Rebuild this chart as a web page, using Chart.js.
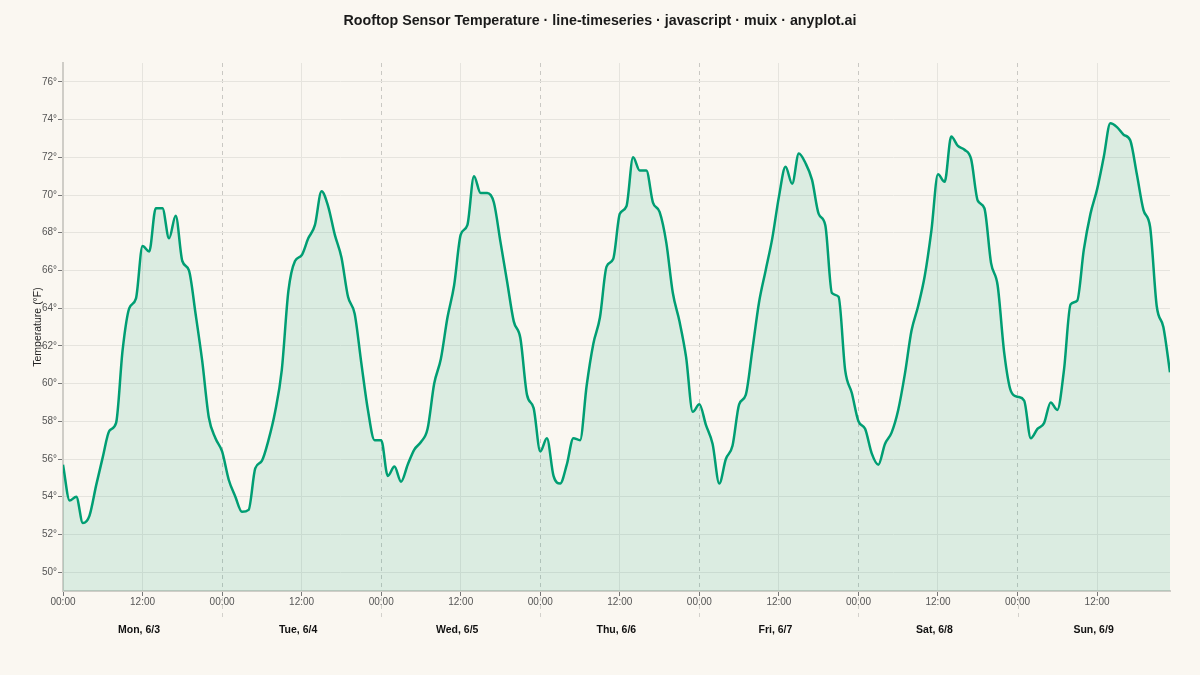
<!DOCTYPE html>
<html>
<head>
<meta charset="utf-8">
<title>Rooftop Sensor Temperature</title>
<script src="https://cdn.jsdelivr.net/npm/chart.js@4/dist/chart.umd.min.js"></script>
<style>
  html, body { margin: 0; padding: 0; background: #faf7f1; }
  #wrap { width: 1200px; height: 675px; position: relative; }
</style>
</head>
<body>
<div id="wrap"><canvas id="tempChart"></canvas></div>
<script>
// hourly readings, Mon 6/3 00:00 -> Sun 6/9 23:00
const monTemps = [55.7, 53.8, 54.0, 52.6, 53.0, 54.6, 56.1, 57.5, 57.9, 61.8, 64.0, 64.5,
                  67.3, 67.0, 69.3, 69.3, 67.7, 68.9, 66.5, 66.0, 63.7, 61.2, 58.2, 57.1];
const tueTemps = [56.4, 54.9, 54.0, 53.2, 53.3, 55.5, 55.9, 57.0, 58.5, 60.7, 64.9, 66.5,
                  66.8, 67.7, 68.4, 70.2, 69.4, 67.9, 66.7, 64.6, 63.7, 61.1, 58.6, 57.0];
const wedTemps = [57.0, 55.1, 55.6, 54.8, 55.7, 56.5, 56.9, 57.6, 60.0, 61.3, 63.5, 65.2,
                  67.9, 68.4, 71.0, 70.1, 70.1, 69.6, 67.5, 65.4, 63.3, 62.4, 59.4, 58.7];
const thuTemps = [56.4, 57.1, 55.1, 54.7, 55.7, 57.1, 57.0, 59.9, 62.1, 63.5, 66.2, 66.6,
                  69.0, 69.4, 72.0, 71.3, 71.3, 69.6, 69.1, 67.5, 64.8, 63.3, 61.4, 58.5];
const friTemps = [58.9, 57.8, 56.8, 54.7, 56.0, 56.7, 58.9, 59.4, 61.8, 64.3, 66.0, 67.7,
                  69.9, 71.5, 70.6, 72.2, 71.7, 70.8, 69.0, 68.4, 64.8, 64.6, 60.7, 59.5];
const satTemps = [58.0, 57.6, 56.3, 55.7, 56.8, 57.4, 58.6, 60.5, 62.8, 64.1, 65.7, 68.1,
                  71.1, 70.7, 73.1, 72.6, 72.4, 71.9, 69.7, 69.3, 66.4, 65.2, 61.6, 59.6];
const sunTemps = [59.3, 59.1, 57.1, 57.6, 57.9, 59.0, 58.6, 60.7, 64.2, 64.4, 67.1, 69.0,
                  70.3, 72.0, 73.8, 73.6, 73.2, 72.9, 71.1, 69.2, 68.3, 64.1, 63.0, 60.6];

const dayLabels = ['Mon, 6/3', 'Tue, 6/4', 'Wed, 6/5', 'Thu, 6/6', 'Fri, 6/7', 'Sat, 6/8', 'Sun, 6/9'];
const hourTicks = [0, 12, 24, 36, 48, 60, 72, 84, 96, 108, 120, 132, 144, 156];
const dayCenters = [12, 36, 60, 84, 108, 132, 156];
const tempTicks = [50, 52, 54, 56, 58, 60, 62, 64, 66, 68, 70, 72, 74, 76];

const allTemps = [].concat(monTemps, tueTemps, wedTemps, thuTemps, friTemps, satTemps, sunTemps);
const points = allTemps.map((t, i) => ({ x: i, y: t }));

Chart.defaults.font.family = "'Liberation Sans', Arial, sans-serif";
Chart.defaults.color = '#555';

const isMidnight = (ctx) => ctx.tick && ctx.tick.value % 24 === 0;

//  dashed day separators continue a little below the x axis
const daySeparators = {
  id: 'daySeparators',
  afterDraw(chart) {
    const { ctx, chartArea, scales } = chart;
    ctx.save();
    ctx.strokeStyle = '#d3d1cc';
    ctx.lineWidth = 1;
    ctx.setLineDash([4, 4]);
    hourTicks.filter(h => h > 0 && h % 24 === 0).forEach(h => {
      const px = Math.round(scales.x.getPixelForValue(h)) + 0.5;
      ctx.beginPath();
      ctx.moveTo(px, chartArea.bottom + 6);
      ctx.lineTo(px, chartArea.bottom + 26);
      ctx.stroke();
    });
    ctx.restore();
  }
};

//  line chart with area fill down to the bottom of the plot
const tempChart = new Chart(document.getElementById('tempChart'), {
  type: 'line',
  data: {
    datasets: [{
      label: 'Temperature (°F)',
      data: points,
      borderColor: '#009e73',
      backgroundColor: 'rgba(0,158,115,0.12)',
      borderWidth: 2.5,
      fill: 'start',
      pointRadius: 0,
      cubicInterpolationMode: 'monotone'
    }]
  },
  plugins: [daySeparators],
  options: {
    responsive: true,
    maintainAspectRatio: false,
    animation: false,
    layout: { padding: { left: 30, right: 30, top: 0, bottom: 19 } },
    plugins: {
      legend: { display: false },
      tooltip: { enabled: false },
      title: {
        display: true,
        text: 'Rooftop Sensor Temperature · line-timeseries · javascript · muix · anyplot.ai',
        color: '#1a1a1a',
        font: { size: 14.25, weight: 'bold' },
        padding: { top: 12.5, bottom: 33.4 }
      }
    },
    scales: {
      x: {
        type: 'linear',
        position: 'bottom',
        weight: 0,
        min: 0,
        max: 167,
        afterBuildTicks: (scale) => { scale.ticks = hourTicks.map(v => ({ value: v })); },
        afterFit: (scale) => { scale.height = 25; },
        ticks: {
          autoSkip: false,
          maxRotation: 0,
          padding: 0,
          font: { size: 10 },
          color: '#555',
          callback: (v) => (v % 24 === 0 ? '00:00' : '12:00')
        },
        grid: {
          color: (ctx) => (isMidnight(ctx) ? '#c9c8c3' : '#e6e4de'),
          lineWidth: 1,
          tickLength: 5,
          tickColor: '#777',
          tickBorderDash: []
        },
        border: {
          color: '#cfcdc7',
          width: 2,
          dash: (ctx) => (isMidnight(ctx) ? [4, 4] : [])
        }
      },
      days: {
        type: 'linear',
        position: 'bottom',
        weight: 1,
        min: 0,
        max: 167,
        afterBuildTicks: (scale) => { scale.ticks = dayCenters.map(v => ({ value: v })); },
        afterFit: (scale) => { scale.height = 40; },
        ticks: {
          autoSkip: false,
          maxRotation: 0,
          padding: 8,
          labelOffset: -3.5,
          font: { size: 10.5, weight: 'bold' },
          color: '#111',
          callback: (v, i) => dayLabels[i]
        },
        grid: { display: false, drawTicks: false },
        border: { display: false }
      },
      y: {
        min: 49,
        max: 77,
        afterBuildTicks: (scale) => { scale.ticks = tempTicks.map(v => ({ value: v })); },
        afterFit: (scale) => { scale.width = 33; },
        ticks: {
          padding: 1,
          font: { size: 10 },
          color: '#555',
          callback: (v) => v + '°'
        },
        grid: {
          color: '#e6e4de',
          lineWidth: 1,
          tickLength: 5,
          tickColor: '#777'
        },
        border: { color: '#cfcdc7', width: 2 },
        title: {
          display: true,
          text: 'Temperature (°F)',
          color: '#222',
          font: { size: 10.5 },
          padding: { top: 1.7, bottom: 0 }
        }
      }
    }
  }
});
</script>
</body>
</html>
